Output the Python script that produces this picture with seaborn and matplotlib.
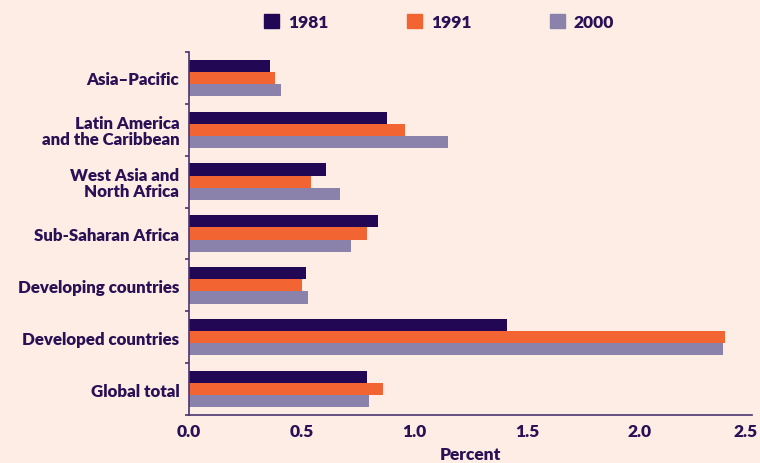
"""Horizontal grouped bars: share by region, 1981 / 1991 / 2000."""

import numpy as np
import pandas as pd
import matplotlib.pyplot as plt
import matplotlib.transforms as mtrans
import seaborn as sns
from matplotlib.ticker import FixedLocator

regions = ['Asia–Pacific',
           'Latin America\nand the Caribbean',
           'West Asia and\nNorth Africa',
           'Sub-Saharan Africa',
           'Developing countries',
           'Developed countries',
           'Global total']
years = ['1981', '1991', '2000']
v1981 = [0.36, 0.88, 0.61, 0.84, 0.52, 1.41, 0.79]
v1991 = [0.38, 0.96, 0.54, 0.79, 0.50, 2.38, 0.86]
v2000 = [0.41, 1.15, 0.67, 0.72, 0.53, 2.37, 0.80]

colors = ['#220755', '#F26532', '#8A82AA']
bg = '#FDEDE4'
ink = '#2A1155'
wt = 'heavy'

df = pd.DataFrame({
    'region': regions * 3,
    'year': [y for y in years for _ in regions],
    'value': v1981 + v1991 + v2000,
})

sns.set_style('white')
plt.rcParams['font.family'] = ['Lato', 'DejaVu Sans']
plt.rcParams['text.color'] = ink

fig = plt.figure(figsize=(7.6, 4.64), dpi=100, facecolor=bg)
ax = fig.add_axes([189 / 760, 1 - 416 / 464, (752 - 189) / 760, (416 - 53) / 464])
ax.set_facecolor(bg)

sns.barplot(data=df, y='region', x='value', hue='year', orient='h',
            palette=colors, width=0.7, saturation=1, linewidth=0,
            ax=ax, legend=False)

ax.set_xlim(0, 2.5)
ax.set_ylim(len(regions) - 0.5, -0.5)
ax.set_xticks(np.arange(0, 2.51, 0.5))
ax.set_xticklabels([f'{t:.1f}' for t in np.arange(0, 2.51, 0.5)])
ax.set_ylabel('')
ax.set_xlabel('Percent', fontsize=12.5, fontweight=wt, color=ink, labelpad=5)

for s in ['top', 'right']:
    ax.spines[s].set_visible(False)
for s in ['left', 'bottom']:
    ax.spines[s].set_color('#4A3570')
    ax.spines[s].set_linewidth(1.2)

ax.tick_params(axis='y', which='major', length=0, pad=7,
               labelsize=12.2, labelcolor=ink)
ax.yaxis.set_minor_locator(FixedLocator(np.arange(-0.5, len(regions) + 0.5, 1)))
ax.tick_params(axis='y', which='minor', length=3, width=1.2,
               color='#4A3570', direction='out', left=True)
ax.tick_params(axis='x', which='major', length=3, width=1.2, direction='in',
               color='#4A3570', labelsize=12.5, labelcolor=ink, pad=6)
for lbl in ax.get_yticklabels():
    lbl.set_linespacing(1.0)
    lbl.set_fontweight(wt)
xlabels = ax.get_xticklabels()
for lbl in xlabels:
    lbl.set_fontweight(wt)
# last label sits against the figure edge
xlabels[-1].set_transform(xlabels[-1].get_transform() +
                          mtrans.ScaledTranslation(-6 / 100, 0, fig.dpi_scale_trans))

handles = [plt.Rectangle((0, 0), 1, 1, color=c) for c in colors]
fig.legend(handles, years, loc='center', bbox_to_anchor=(439 / 760, 1 - 23 / 464),
           ncol=3, frameon=False, columnspacing=4.5, handlelength=0.9,
           handleheight=0.9, handletextpad=0.5,
           prop={'weight': wt, 'size': 12.5})

fig.savefig('out.png', dpi=100, facecolor=bg)
